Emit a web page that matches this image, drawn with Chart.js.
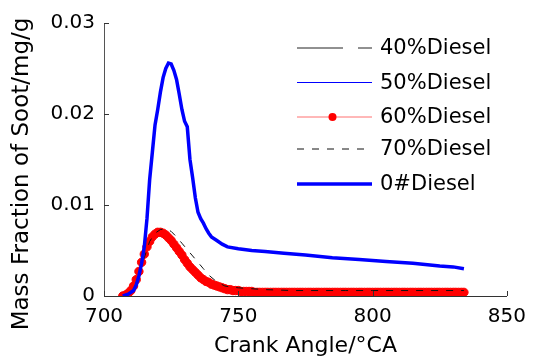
<!DOCTYPE html>
<html>
<head>
<meta charset="utf-8">
<script src="https://cdn.jsdelivr.net/npm/chart.js@4.4.1/dist/chart.umd.min.js"></script>
<style>
  html, body { margin:0; padding:0; background:#fff; }
  canvas { display:block; }
</style>
</head>
<body>
<canvas id="c" width="535" height="358"></canvas>
<script>
// ======= data =======
const xTicks = [700, 750, 800, 850];
const yTicks = [0, 0.01, 0.02, 0.03];

// 60%Diesel is sampled every 1 °CA (dense markers)
const angle60 = [
  707,708,709,710,711,712,713,714,715,716,
  717,718,719,720,721,722,723,724,725,726,
  727,728,729,730,731,732,733,734,735,736,
  737,738,739,740,741,742,743,744,745,746,
  747,748,749,750,751,752,753,754,755,756,
  757,758,759,760,761,762,763,764,765,766,
  767,768,769,770,771,772,773,774,775,776,
  777,778,779,780,781,782,783,784,785,786,
  787,788,789,790,791,792,793,794,795,796,
  797,798,799,800,801,802,803,804,805,806,
  807,808,809,810,811,812,813,814,815,816,
  817,818,819,820,821,822,823,824,825,826,
  827,828,829,830,831,832,833,834
];
const soot60 = [
  0.0000,0.0001,0.0003,0.0006,0.0011,0.0018,0.0027,0.0037,0.0046,0.0054,
  0.0060,0.0065,0.0068,0.0070,0.0070,0.0069,0.0067,0.0064,0.0061,0.0057,
  0.0053,0.0049,0.0045,0.0040,0.0036,0.0032,0.0029,0.0026,0.0023,0.0020,
  0.0018,0.0016,0.0015,0.0013,0.0012,0.0011,0.0010,0.0009,0.0008,0.0007,
  0.0007,0.0006,0.0006,0.0006,0.0005,0.0005,0.0005,0.0005,0.0005,0.0004,
  0.0004,0.0004,0.0004,0.0004,0.0004,0.0004,0.0004,0.0004,0.0004,0.0004,
  0.0004,0.0004,0.0004,0.0004,0.0004,0.0004,0.0004,0.0004,0.0004,0.0004,
  0.0004,0.0004,0.0004,0.0004,0.0004,0.0004,0.0004,0.0004,0.0004,0.0004,
  0.0004,0.0004,0.0004,0.0004,0.0004,0.0004,0.0004,0.0004,0.0004,0.0004,
  0.0004,0.0004,0.0004,0.0004,0.0004,0.0004,0.0004,0.0004,0.0004,0.0004,
  0.0004,0.0004,0.0004,0.0004,0.0004,0.0004,0.0004,0.0004,0.0004,0.0004,
  0.0004,0.0004,0.0004,0.0004,0.0004,0.0004,0.0004,0.0004,0.0004,0.0004,
  0.0004,0.0004,0.0004,0.0004,0.0004,0.0004,0.0004,0.0004
];

// 40 / 50 / 70 %Diesel share a coarser angle grid
const angleBlend = [707,709,711,713,715,717,719,721,723,725,727,729,731,733,735,737,739,741,743,745,747,750,755,760,770,780,790,800,810,820,834];
const soot40 = [0,0.0002,0.0006,0.0025,0.0046,0.0061,0.0069,0.0071,0.0069,0.0063,0.0055,0.0047,0.0038,0.0030,0.0024,0.0019,0.0015,0.0012,0.0010,0.0009,0.0008,0.0007,0.0006,0.0006,0.0005,0.0005,0.0005,0.0005,0.0005,0.0005,0.0005];
const soot50 = [0,0.0002,0.0006,0.0026,0.0047,0.0061,0.0069,0.0071,0.0068,0.0062,0.0054,0.0046,0.0037,0.0029,0.0023,0.0018,0.0015,0.0012,0.0010,0.0009,0.0008,0.0007,0.0006,0.0005,0.0005,0.0004,0.0004,0.0004,0.0004,0.0004,0.0004];
const soot70 = [0,0.0002,0.0007,0.0022,0.0042,0.0060,0.0069,0.0073,0.0074,0.0071,0.0065,0.0058,0.0051,0.0044,0.0037,0.0030,0.0023,0.0018,0.0014,0.0011,0.0010,0.0009,0.0008,0.0007,0.0006,0.0006,0.0006,0.0006,0.0006,0.0006,0.0006];

// 0#Diesel (the big peak)
const angle0 = [707,709,711,712,713,714,715,716,717,718,719,720,721,722,723,724,725,726,727,728,729,730,731,732,733,734,735,736,737,738,739,740,742,744,746,750,755,760,767,775,785,795,805,815,825,830,834];
const soot0 = [0,0.0002,0.0006,0.0012,0.0022,0.0036,0.0054,0.0085,0.0128,0.0158,0.0188,0.0205,0.0224,0.0240,0.0250,0.0256,0.0255,0.0248,0.0238,0.0222,0.0205,0.0192,0.0186,0.0150,0.0130,0.0108,0.0092,0.0085,0.0080,0.0074,0.0069,0.0065,0.0061,0.0057,0.0054,0.0052,0.0050,0.0049,0.0047,0.0045,0.0042,0.0040,0.0038,0.0036,0.0033,0.0032,0.0030];

const seriesNames = ['40%Diesel', '50%Diesel', '60%Diesel', '70%Diesel', '0#Diesel'];

// ======= helpers =======
const pts = (xs, ys) => xs.map((x, i) => ({ x, y: ys[i] }));
const FONT = '"DejaVu Sans", sans-serif';

const datasets = [
  { label: seriesNames[0], data: pts(angleBlend, soot40), borderColor: '#222', borderWidth: 1, borderDash: [46, 15], pointRadius: 0, order: 4 },
  { label: seriesNames[1], data: pts(angleBlend, soot50), borderColor: '#0000ff', borderWidth: 1, pointRadius: 0, order: 3 },
  { label: seriesNames[2], data: pts(angle60, soot60), borderColor: '#ff0000', borderWidth: 1, pointRadius: 4.2, pointBorderWidth: 1,
    pointBackgroundColor: '#ff0000', pointBorderColor: '#ff0000', order: 2 },
  { label: seriesNames[3], data: pts(angleBlend, soot70), borderColor: '#111', borderWidth: 1, borderDash: [7, 8], pointRadius: 0, order: 1 },
  { label: seriesNames[4], data: pts(angle0, soot0), borderColor: '#0000ff', borderWidth: 3.5, pointRadius: 0, order: 0 }
];

// inward ticks, legend and axis titles (MATLAB look)
const decor = {
  id: 'decor',
  afterDraw(chart){
    const ctx = chart.ctx, xs = chart.scales.x, ys = chart.scales.y, a = chart.chartArea;
    ctx.save();
    // inward ticks
    ctx.strokeStyle = '#333'; ctx.lineWidth = 1;
    ctx.beginPath();
    yTicks.forEach(v => { const y = Math.round(ys.getPixelForValue(v)) + 0.5; ctx.moveTo(a.left, y); ctx.lineTo(a.left + 5, y); });
    xTicks.forEach(v => { const x = Math.round(xs.getPixelForValue(v)) + 0.5; ctx.moveTo(x, a.bottom); ctx.lineTo(x, a.bottom - 5); });
    ctx.stroke();

    // legend
    const rowsY = [48, 82.5, 117, 149, 184];
    const x0 = 297, x1 = 372, tx = 380;
    ctx.font = '21px ' + FONT;
    ctx.textBaseline = 'middle';
    ctx.fillStyle = '#000';
    datasets.forEach((d, i) => {
      const y = rowsY[i];
      ctx.strokeStyle = d.pointRadius ? '#ff7070' : d.borderColor;
      ctx.lineWidth = d.borderWidth;
      ctx.setLineDash(d.borderDash || []);
      ctx.beginPath(); ctx.moveTo(x0, y); ctx.lineTo(x1, y); ctx.stroke();
      ctx.setLineDash([]);
      if (d.pointRadius) {
        ctx.fillStyle = d.pointBackgroundColor;
        ctx.beginPath(); ctx.arc((x0 + x1) / 2 - 2, y, 4, 0, Math.PI * 2); ctx.fill();
      }
      ctx.fillStyle = '#000';
      ctx.textAlign = 'left';
      ctx.fillText(d.label, tx, y + 1);
    });

    // axis titles
    ctx.textAlign = 'center';
    ctx.font = '22px ' + FONT;
    ctx.fillText('Crank Angle/°CA', (a.left + a.right) / 2, 346);
    ctx.save();
    ctx.translate(22, 174);
    ctx.rotate(-Math.PI / 2);
    ctx.font = '23px ' + FONT;
    ctx.fillText('Mass Fraction of Soot/mg/g', 0, 0);
    ctx.restore();
    ctx.restore();
  }
};

new Chart(document.getElementById('c'), {
  type: 'scatter',
  data: { datasets },
  options: {
    responsive: false,
    animation: false,
    showLine: true,
    layout: { padding: { top: 23, right: 22, left: 0, bottom: 0 } },
    elements: { line: { tension: 0, fill: false } },
    plugins: { legend: { display: false }, tooltip: { enabled: false } },
    scales: {
      x: {
        type: 'linear', min: 700, max: 850,
        afterBuildTicks: s => { s.ticks = xTicks.map(v => ({ value: v })); },
        afterFit: s => { s.height = 62; },
        grid: { display: false, drawTicks: false },
        border: { display: true, color: '#333', width: 1 },
        ticks: { padding: 9, color: '#000', font: { family: FONT, size: 20 }, maxRotation: 0 }
      },
      y: {
        type: 'linear', min: 0, max: 0.03,
        afterBuildTicks: s => { s.ticks = yTicks.map(v => ({ value: v })); },
        afterFit: s => { s.width = 104; },
        grid: { display: false, drawTicks: false },
        border: { display: true, color: '#555', width: 1 },
        ticks: { padding: 9, color: '#000', font: { family: FONT, size: 20 }, callback: v => String(v) }
      }
    }
  },
  plugins: [decor]
});
</script>
</body>
</html>
